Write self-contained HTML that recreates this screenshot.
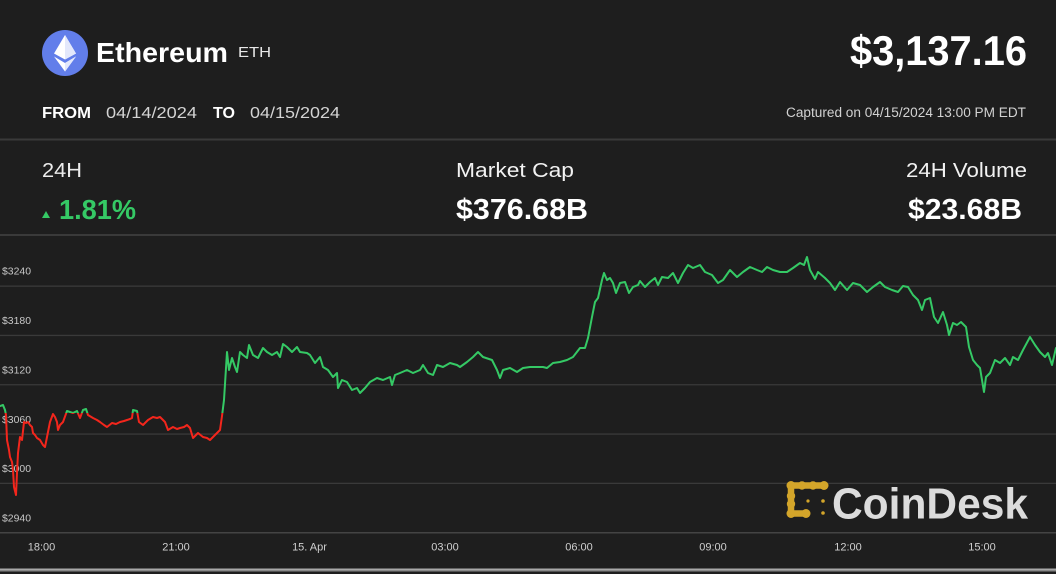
<!DOCTYPE html>
<html><head><meta charset="utf-8"><style>
html,body{margin:0;padding:0;background:#1e1e1e;}
svg{display:block;}
text{font-family:"Liberation Sans",Arial,sans-serif;}
</style></head><body>
<svg width="1056" height="574" viewBox="0 0 1056 574" xmlns="http://www.w3.org/2000/svg">
<rect x="0" y="0" width="1056" height="574" fill="#1e1e1e"/>

<!-- Header -->
<circle cx="65" cy="53" r="23" fill="#627eea"/>
<polygon points="65,35 76,53.5 65,59.5 54,53.5" fill="#ffffff"/>
<polygon points="65,35 65,59.5 76,53.5" fill="#e3e8fb"/>
<polygon points="54,56.5 65,63 76,56.5 65,71.5" fill="#ffffff"/>
<polygon points="65,63 76,56.5 65,71.5" fill="#e3e8fb"/>
<text x="96" y="62" font-size="28" font-weight="bold" fill="#ffffff" textLength="132" lengthAdjust="spacingAndGlyphs">Ethereum</text>
<text x="238" y="57" font-size="15" fill="#e8e8e8" textLength="33" lengthAdjust="spacingAndGlyphs">ETH</text>
<text x="850" y="65" font-size="42" font-weight="bold" fill="#ffffff" textLength="177" lengthAdjust="spacingAndGlyphs">$3,137.16</text>

<text x="42" y="118" font-size="16" font-weight="bold" fill="#ffffff" textLength="49" lengthAdjust="spacingAndGlyphs">FROM</text>
<text x="106" y="118" font-size="16" fill="#d4d4d4" textLength="91" lengthAdjust="spacingAndGlyphs">04/14/2024</text>
<text x="213" y="118" font-size="16" font-weight="bold" fill="#ffffff" textLength="22" lengthAdjust="spacingAndGlyphs">TO</text>
<text x="250" y="118" font-size="16" fill="#d4d4d4" textLength="90" lengthAdjust="spacingAndGlyphs">04/15/2024</text>
<text x="786" y="117" font-size="13.5" fill="#d2d2d2" textLength="240" lengthAdjust="spacingAndGlyphs">Captured on 04/15/2024 13:00 PM EDT</text>

<rect x="0" y="138.5" width="1056" height="2" fill="#3a3a3a"/>

<!-- Stats -->
<text x="42" y="177" font-size="20" fill="#ececec" textLength="40" lengthAdjust="spacingAndGlyphs">24H</text>
<polygon points="42,218 46,211 50,218" fill="#35c965"/>
<text x="59" y="219" font-size="28" font-weight="bold" fill="#35c965" textLength="77" lengthAdjust="spacingAndGlyphs">1.81%</text>
<text x="456" y="177" font-size="20" fill="#f2f2f2" textLength="118" lengthAdjust="spacingAndGlyphs">Market Cap</text>
<text x="456" y="219" font-size="29" font-weight="bold" fill="#ffffff" textLength="132" lengthAdjust="spacingAndGlyphs">$376.68B</text>
<text x="906" y="177" font-size="20" fill="#f2f2f2" textLength="121" lengthAdjust="spacingAndGlyphs">24H Volume</text>
<text x="908" y="219" font-size="29" font-weight="bold" fill="#ffffff" textLength="114" lengthAdjust="spacingAndGlyphs">$23.68B</text>

<rect x="0" y="234" width="1056" height="2" fill="#3a3a3a"/>

<!-- Grid -->
<g fill="#3a3a3a">
<rect x="0" y="285.5" width="1056" height="1.3"/>
<rect x="0" y="334.8" width="1056" height="1.3"/>
<rect x="0" y="384.1" width="1056" height="1.3"/>
<rect x="0" y="433.4" width="1056" height="1.3"/>
<rect x="0" y="482.7" width="1056" height="1.3"/>
<rect x="0" y="532" width="1056" height="1.5" fill="#444"/>
</g>

<!-- Y labels -->
<g font-size="10.4" fill="#c8c8c8">
<text x="2" y="274.5" textLength="29" lengthAdjust="spacingAndGlyphs">$3240</text>
<text x="2" y="324" textLength="29" lengthAdjust="spacingAndGlyphs">$3180</text>
<text x="2" y="373.5" textLength="29" lengthAdjust="spacingAndGlyphs">$3120</text>
<text x="2" y="423" textLength="29" lengthAdjust="spacingAndGlyphs">$3060</text>
<text x="2" y="472" textLength="29" lengthAdjust="spacingAndGlyphs">$3000</text>
<text x="2" y="521.5" textLength="29" lengthAdjust="spacingAndGlyphs">$2940</text>
</g>

<!-- X labels -->
<g font-size="11" fill="#cfcfcf" text-anchor="middle">
<text x="41.5" y="550.5">18:00</text>
<text x="176" y="550.5">21:00</text>
<text x="309.5" y="550.5">15. Apr</text>
<text x="445" y="550.5">03:00</text>
<text x="579" y="550.5">06:00</text>
<text x="713" y="550.5">09:00</text>
<text x="848" y="550.5">12:00</text>
<text x="982" y="550.5">15:00</text>
</g>

<!-- CoinDesk watermark -->
<g stroke="#d3a52a" stroke-width="6.5" stroke-linecap="round" stroke-linejoin="round" fill="none">
<polyline points="824,485.5 791,485.5 791,513.5 806,513.5"/>
</g>
<g fill="#d3a52a">
<circle cx="791" cy="485.5" r="4.5"/><circle cx="802" cy="485.5" r="4.2"/><circle cx="813" cy="485.5" r="4.2"/><circle cx="824" cy="485.5" r="4.5"/>
<circle cx="791" cy="496" r="4.2"/><circle cx="791" cy="504" r="4.2"/><circle cx="791" cy="513.5" r="4.5"/><circle cx="806" cy="513.5" r="4.5"/>
<circle cx="808" cy="501" r="1.6"/><circle cx="823" cy="501" r="1.8"/><circle cx="823" cy="513" r="1.8"/>
</g>
<text x="832" y="518.5" font-size="44" font-weight="bold" fill="#dcdcdc" textLength="196" lengthAdjust="spacingAndGlyphs">CoinDesk</text>

<!-- Price line -->
<defs>
<clipPath id="up"><rect x="0" y="230" width="1056" height="183"/></clipPath>
<clipPath id="dn"><rect x="0" y="413" width="1056" height="120"/></clipPath>
<polyline id="pl" fill="none" stroke-width="2" stroke-linejoin="round" stroke-linecap="round" points="0,406 3,405 5,410 6,415 7,440 9,450 10,457 12,462 13,470 14,487 16,495 17,473 18,453 20,437 22,440 24,422 26,423 28,422 30,425 32,427 33,433 35,435 37,438 40,440 43,445 45,447 47,437 50,422 53,414 55,417 57,422 58,430 60,425 63,422 67,411 70,412 73,413 77,411 80,418 83,410 86,409 88,415 93,418 97,420 100,422 104,425 107,427 112,423 116,424 120,422 124,421 127,420 130,419 132,418 133,410 137,411 139,422 143,425 148,420 153,417 157,418 160,417 165,422 168,430 173,427 177,429 180,428 184,427 187,425 190,428 193,438 198,433 203,437 207,438 210,440 213,437 215,435 218,432 220,430 222,416 224,400 227,352 229,370 232,358 235,367 237,372 240,352 243,355 247,358 249,345 253,355 258,358 263,348 267,352 272,355 277,352 280,357 283,344 287,347 292,352 297,347 300,352 307,353 310,355 315,363 320,357 323,367 328,370 333,377 337,373 338,388 342,380 347,382 352,390 357,388 360,393 365,388 370,382 377,378 383,380 390,377 392,385 395,375 400,373 407,370 413,373 420,370 423,365 428,373 433,375 437,365 443,367 450,363 457,365 460,367 467,362 473,357 478,352 483,357 492,360 497,370 500,378 503,370 510,368 517,372 523,368 530,367 537,367 543,367 547,368 553,363 560,362 567,360 573,357 580,348 585,348 588,338 592,317 595,302 598,298 602,280 604,273 607,280 610,278 613,283 616,293 620,283 625,282 629,293 633,287 638,285 640,281 645,287 650,282 655,278 658,285 662,277 668,278 673,273 678,283 683,273 688,265 693,268 700,265 705,272 712,275 718,283 723,280 730,270 737,277 743,272 750,267 757,270 762,272 767,267 773,270 780,272 787,272 793,268 800,263 804,265 807,257 810,270 815,279 818,272 825,278 830,283 835,290 840,282 847,290 853,283 860,285 867,292 873,287 880,282 885,287 892,290 898,292 903,286 908,287 913,295 918,300 922,310 925,300 930,298 934,317 938,323 943,312 947,325 949,335 953,323 957,325 961,322 966,327 969,347 973,360 977,365 980,368 984,392 986,377 990,373 995,360 1000,363 1005,358 1010,365 1013,357 1018,360 1023,350 1030,337 1035,345 1040,352 1045,357 1048,353 1052,365 1056,348"/>
</defs>
<use href="#pl" stroke="#35c965" clip-path="url(#up)"/>
<use href="#pl" stroke="#f3261c" clip-path="url(#dn)"/>

<!-- Bottom border -->
<rect x="0" y="568.5" width="1056" height="2" fill="#a8a8a8"/>
<rect x="0" y="570.5" width="1056" height="1.2" fill="#6a6a6a"/>
</svg>
</body></html>
